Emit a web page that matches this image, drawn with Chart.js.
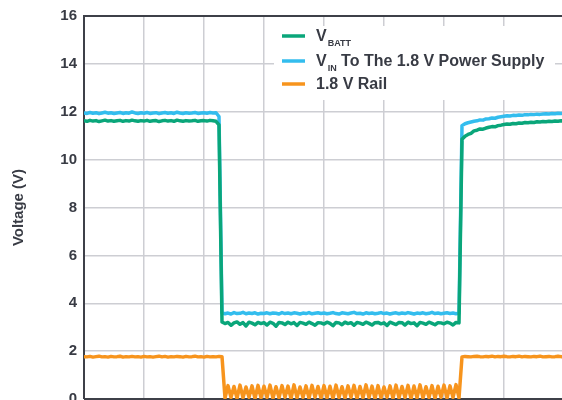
<!DOCTYPE html>
<html>
<head>
<meta charset="utf-8">
<script src="https://cdn.jsdelivr.net/npm/chart.js@4"></script>
<style>
  html, body { margin: 0; padding: 0; background: #ffffff; overflow: hidden; }
  #wrap { width: 562px; height: 400px; overflow: hidden; position: relative; }
  canvas { display: block; }
</style>
</head>
<body>
<div id="wrap"><canvas id="c" width="620" height="440" style="width:620px;height:440px"></canvas></div>
<script>
// Time base: one sample every 0.05 division, 0 to 8 divisions
const timeStep = 0.05;

// Legend text: main text, subscript, trailing text
const legendParts = [
  ["V", "BATT", ""],
  ["V", "IN", " To The 1.8 V Power Supply"],
  ["1.8 V Rail", "", ""]
];
const seriesLabels = ["VBATT", "VIN To The 1.8 V Power Supply", "1.8 V Rail"];

// Y-axis ticks (V)
const yTicks = [0, 2, 4, 6, 8, 10, 12, 14, 16];

// Battery voltage (V)
const vBatt = [
  11.62,11.60,11.64,11.61,11.63,11.59,11.62,11.65,11.61,11.63,11.60,11.62,11.64,11.60,11.63,11.61,11.65,11.62,11.60,11.63,
  11.61,11.64,11.60,11.62,11.63,11.59,11.62,11.64,11.61,11.63,11.60,11.65,11.62,11.60,11.63,11.61,11.62,11.64,11.60,11.62,
  11.63,11.61,11.64,11.62,11.60,11.45,3.22,3.15,3.20,3.08,3.18,3.22,3.12,3.19,3.05,3.21,3.17,3.10,3.20,3.15,
  3.19,3.09,3.21,3.16,3.04,3.20,3.18,3.11,3.21,3.14,3.19,3.07,3.20,3.17,3.12,3.21,3.15,3.08,3.19,3.18,
  3.13,3.21,3.16,3.06,3.20,3.18,3.10,3.21,3.15,3.19,3.08,3.20,3.17,3.12,3.21,3.16,3.09,3.19,3.20,3.14,
  3.18,3.07,3.21,3.16,3.11,3.20,3.19,3.09,3.21,3.15,3.18,3.06,3.20,3.17,3.12,3.21,3.16,3.10,3.19,3.18,
  3.14,3.21,3.17,3.09,3.20,3.18,10.85,10.98,11.05,11.10,11.20,11.23,11.28,11.27,11.32,11.35,11.38,11.37,11.42,11.44,
  11.47,11.49,11.48,11.51,11.50,11.53,11.52,11.55,11.54,11.56,11.55,11.58,11.57,11.59,11.58,11.60,11.59,11.61,11.60,11.62,
  11.61
];

// Input to the 1.8 V supply (V)
const vIn = [
  11.95,11.93,11.97,11.94,11.96,11.92,11.95,11.98,11.94,11.96,11.93,11.95,11.97,11.93,11.96,11.94,11.99,11.95,11.93,11.96,
  11.94,11.97,11.93,11.95,11.96,11.92,11.95,11.97,11.94,11.96,11.93,11.98,11.95,11.93,11.96,11.94,11.95,11.97,11.93,11.95,
  11.96,11.94,11.97,11.95,11.96,11.80,3.60,3.56,3.59,3.55,3.61,3.57,3.58,3.62,3.56,3.59,3.57,3.60,3.55,3.58,
  3.57,3.60,3.56,3.59,3.58,3.55,3.61,3.57,3.59,3.56,3.60,3.58,3.55,3.59,3.57,3.61,3.56,3.58,3.60,3.57,
  3.59,3.56,3.58,3.61,3.57,3.55,3.60,3.58,3.56,3.59,3.62,3.57,3.58,3.55,3.60,3.57,3.59,3.56,3.58,3.61,
  3.57,3.59,3.55,3.58,3.60,3.56,3.59,3.57,3.61,3.58,3.55,3.59,3.57,3.60,3.56,3.58,3.62,3.57,3.59,3.56,
  3.58,3.60,3.57,3.59,3.56,3.58,11.42,11.50,11.54,11.57,11.60,11.62,11.66,11.65,11.70,11.71,11.74,11.73,11.77,11.79,
  11.81,11.83,11.82,11.85,11.84,11.86,11.85,11.88,11.87,11.89,11.88,11.90,11.89,11.91,11.92,11.91,11.93,11.92,11.94,11.93,
  11.94
];

// 1.8 V rail (V)
const rail18 = [
  1.77,1.76,1.78,1.75,1.77,1.79,1.76,1.77,1.75,1.78,1.76,1.77,1.79,1.75,1.77,1.76,1.78,1.76,1.77,1.75,
  1.78,1.76,1.77,1.75,1.77,1.79,1.76,1.78,1.75,1.77,1.76,1.78,1.77,1.75,1.78,1.76,1.77,1.79,1.76,1.77,
  1.75,1.78,1.76,1.77,1.76,1.78,1.77,0.04,0.56,0.06,0.52,0.03,0.58,0.05,0.50,0.07,0.55,0.02,0.57,0.05,
  0.53,0.06,0.58,0.03,0.51,0.05,0.56,0.07,0.54,0.02,0.59,0.05,0.50,0.06,0.55,0.03,0.57,0.07,0.52,0.04,
  0.56,0.05,0.53,0.02,0.58,0.06,0.51,0.04,0.55,0.07,0.57,0.03,0.52,0.05,0.59,0.06,0.54,0.02,0.56,0.05,
  0.50,0.07,0.55,0.03,0.58,0.05,0.52,0.06,0.57,0.02,0.54,0.05,0.59,0.04,0.51,0.06,0.56,0.03,0.53,0.07,
  0.58,0.04,0.55,0.06,0.60,0.05,1.76,1.78,1.77,1.76,1.78,1.79,1.77,1.76,1.78,1.77,1.79,1.76,1.78,1.77,
  1.79,1.77,1.76,1.78,1.77,1.79,1.76,1.78,1.77,1.76,1.78,1.77,1.79,1.76,1.77,1.78,1.76,1.77,1.79,1.77,
  1.78
];

const seriesColors = ["#0aa67a", "#33bdee", "#f7941d"];
const textColor = "#383b44";
const axisColor = "#3e4048";
const gridColor = "#cdced3";
const FONT = "'Liberation Sans', Arial, sans-serif";

const toPoints = vals => vals.map((v, i) => ({ x: i * timeStep, y: v }));

// Frame lines (top, left, bottom) and the legend with subscripts
const framePlugin = {
  id: 'frameAndLegend',
  beforeDatasetsDraw(chart) {
    const { ctx, chartArea: a } = chart;
    ctx.save();
    ctx.strokeStyle = axisColor;
    ctx.lineWidth = 2;
    ctx.beginPath();
    ctx.moveTo(a.left, a.bottom);
    ctx.lineTo(a.left, a.top);
    ctx.lineTo(a.right + 10, a.top);
    ctx.moveTo(a.left, a.bottom);
    ctx.lineTo(a.right + 10, a.bottom);
    ctx.stroke();

    // legend box
    const bx = 274, by = 26, bw = 281, bh = 74;
    ctx.fillStyle = "#ffffff";
    ctx.fillRect(bx, by, bw, bh);

    const rows = [41, 66, 89];
    legendParts.forEach((p, k) => {
      const base = rows[k];
      const mid = base - 5;
      ctx.strokeStyle = seriesColors[k];
      ctx.lineWidth = 3.5;
      ctx.beginPath();
      ctx.moveTo(282, mid);
      ctx.lineTo(305, mid);
      ctx.stroke();

      ctx.fillStyle = textColor;
      ctx.textBaseline = 'alphabetic';
      ctx.textAlign = 'left';
      let x = 316;
      ctx.font = "bold 16px " + FONT;
      ctx.fillText(p[0], x, base);
      x += ctx.measureText(p[0]).width;
      if (p[1]) {
        ctx.font = "bold 9px " + FONT;
        ctx.fillText(p[1], x + 1, base + 5);
        x += ctx.measureText(p[1]).width + 1;
      }
      if (p[2]) {
        ctx.font = "bold 16px " + FONT;
        ctx.fillText(p[2], x, base);
      }
    });
    ctx.restore();
  }
};

new Chart(document.getElementById('c'), {
  type: 'line',
  data: {
    datasets: [
      { label: seriesLabels[0], data: toPoints(vBatt), borderColor: seriesColors[0] },
      { label: seriesLabels[1], data: toPoints(vIn), borderColor: seriesColors[1] },
      { label: seriesLabels[2], data: toPoints(rail18), borderColor: seriesColors[2] }
    ]
  },
  options: {
    responsive: false,
    animation: false,
    devicePixelRatio: 1,
    layout: { padding: { top: 15, right: 56, bottom: 41, left: 0 } },
    elements: {
      point: { radius: 0 },
      line: { borderWidth: 3.5, tension: 0, borderJoinStyle: 'round', borderCapStyle: 'round' }
    },
    plugins: { legend: { display: false }, tooltip: { enabled: false } },
    scales: {
      x: {
        type: 'linear',
        min: 0,
        max: 8,
        ticks: { display: false, stepSize: 1 },
        grid: { color: gridColor, lineWidth: 1.5, drawTicks: false },
        border: { display: false },
        afterFit(scale) { scale.height = 0; }
      },
      y: {
        min: 0,
        max: 16,
        afterBuildTicks(scale) { scale.ticks = yTicks.map(v => ({ value: v })); },
        ticks: {
          color: textColor,
          font: { family: FONT, size: 15, weight: 'bold' },
          padding: 7
        },
        grid: { color: gridColor, lineWidth: 1.5, drawTicks: false },
        border: { display: false },
        title: {
          display: true,
          text: 'Voltage (V)',
          color: textColor,
          font: { family: FONT, size: 15, weight: 'bold' },
          padding: { top: 10, bottom: 0 }
        },
        afterFit(scale) { scale.width = 84; }
      }
    }
  },
  plugins: [framePlugin]
});
</script>
</body>
</html>
